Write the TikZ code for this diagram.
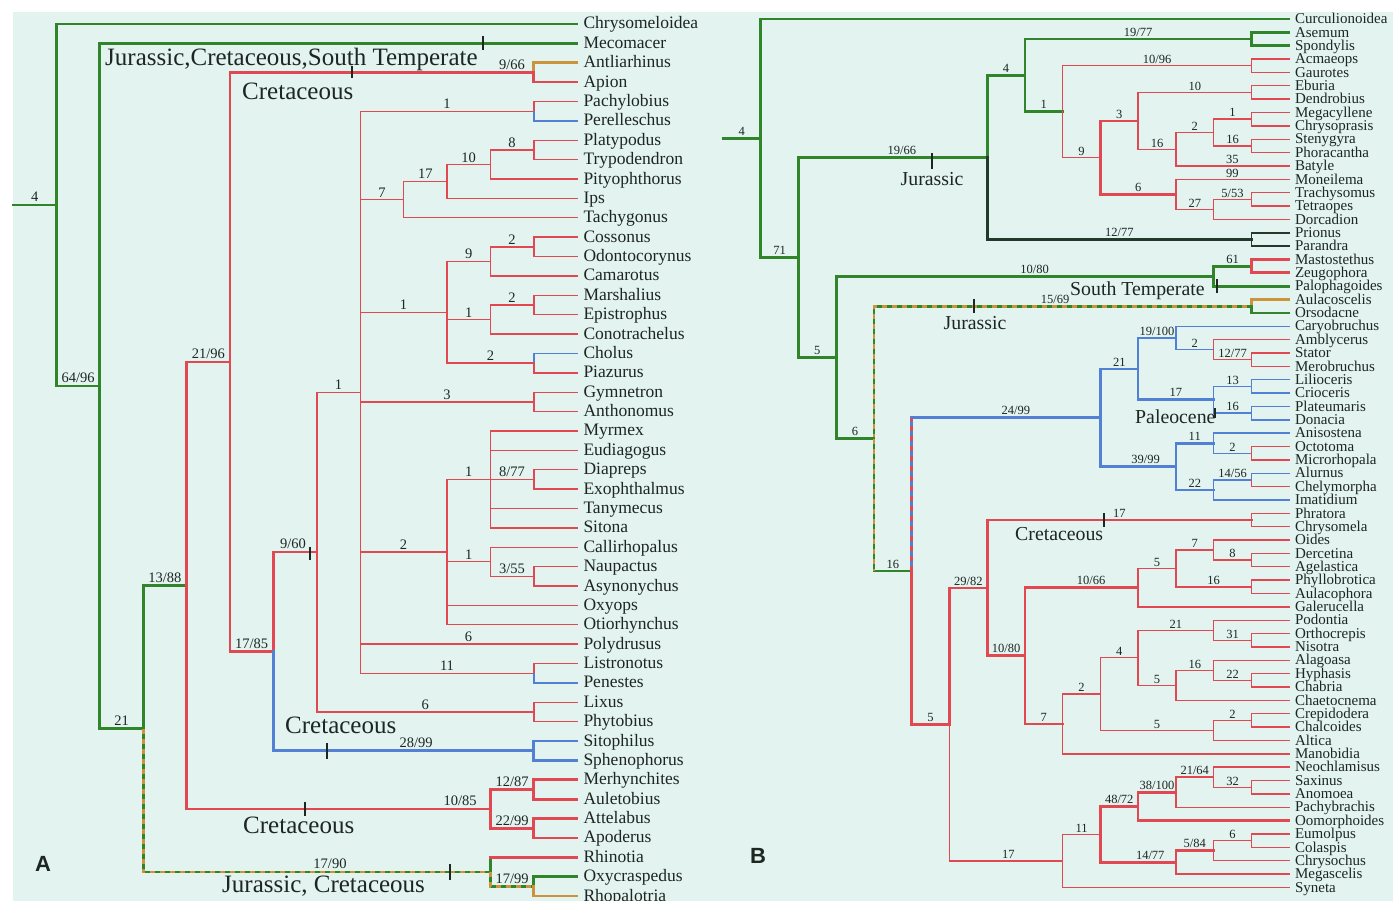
\documentclass[tikz,border=0pt]{standalone}
\usepackage{fontspec}
\setmainfont{Liberation Serif}
\newfontfamily\pfont{Liberation Sans}
\usetikzlibrary{calc}
\definecolor{bgc}{RGB}{226,243,240}
\definecolor{grn}{RGB}{48,132,42}
\definecolor{rdc}{RGB}{226,72,82}
\definecolor{blc}{RGB}{82,128,212}
\definecolor{org}{RGB}{204,148,58}
\definecolor{dkc}{RGB}{34,58,44}
\definecolor{txt}{RGB}{30,38,34}
\newcommand\mkn[4]{\path let \p1=(#3),\p2=(#4) in (#2pt,{0.5*\y1+0.5*\y2}) coordinate (#1);}
\newcommand\tbr[3]{\draw[#1] (#2) |- (#3);}
\newcommand\tbl[5][.75]{\draw[#2] (#3) |- node[lb,pos=#1]{#5} (#4);}
\tikzset{
  gT/.style={draw=grn,line width=2.7pt,line cap=rect},
  rT/.style={draw=rdc,line width=2.7pt,line cap=rect},
  bT/.style={draw=blc,line width=2.7pt,line cap=rect},
  oT/.style={draw=org,line width=2.7pt,line cap=rect},
  kT/.style={draw=dkc,line width=2.7pt,line cap=rect},
  rN/.style={draw=rdc,line width=1.4pt,line cap=rect},
  bN/.style={draw=blc,line width=1.4pt,line cap=rect},
  kN/.style={draw=dkc,line width=1.8pt,line cap=rect},
  ov/.style={draw=org,line width=2.7pt,dash pattern=on 5pt off 5pt},
  ovR/.style={draw=rdc,line width=2.7pt,dash pattern=on 5pt off 5pt},
  tick/.style={draw=txt,line width=1.4pt},
  leafA/.style={anchor=west,font=\fontsize{17.5}{17.5}\selectfont,text=txt,inner sep=0pt,outer xsep=6.5pt,outer ysep=0pt,text height=12.6pt,text depth=2.6pt},
  leafB/.style={anchor=west,font=\fontsize{15}{15}\selectfont,text=txt,inner sep=0pt,outer xsep=6pt,outer ysep=0pt,text height=11pt,text depth=1.6pt},
  bigA/.style={anchor=base west,font=\fontsize{25}{25}\selectfont,text=txt,inner sep=0pt},
  bigB/.style={anchor=base west,font=\fontsize{19.8}{19.8}\selectfont,text=txt,inner sep=0pt},
  plet/.style={anchor=base west,font=\pfont\bfseries\fontsize{22}{22}\selectfont,text=txt,inner sep=0pt}
}
\begin{document}
\begin{tikzpicture}[x=1pt,y=-1pt]
\useasboundingbox (0,0) rectangle (1393,901);
\fill[white] (0,0) rectangle (1393,901);
\fill[bgc] (13,12) rectangle (1393,901);

% ================= Panel A =================
\begin{scope}[lb/.style={font=\fontsize{14.5}{14.5}\selectfont,text=txt,anchor=south,inner sep=1.8pt,text depth=0pt}]
\foreach \n [count=\i from 0] in {Chrysomeloidea,Mecomacer,Antliarhinus,Apion,Pachylobius,Perelleschus,Platypodus,Trypodendron,Pityophthorus,Ips,Tachygonus,Cossonus,Odontocorynus,Camarotus,Marshalius,Epistrophus,Conotrachelus,Cholus,Piazurus,Gymnetron,Anthonomus,Myrmex,Eudiagogus,Diapreps,Exophthalmus,Tanymecus,Sitona,Callirhopalus,Naupactus,Asynonychus,Oxyops,Otiorhynchus,Polydrusus,Listronotus,Penestes,Lixus,Phytobius,Sitophilus,Sphenophorus,Merhynchites,Auletobius,Attelabus,Apoderus,Rhinotia,Oxycraspedus,Rhopalotria}
  \node[leafA] (A\i) at (577,{24+19.38*\i}) {\n};

\mkn{aAnt}{533.8}{A2.west}{A3.west}
\mkn{aPac}{533.8}{A4.west}{A5.west}
\mkn{aPla}{533.8}{A6.west}{A7.west}
\mkn{aPit}{490.4}{aPla}{A8.west}
\mkn{aIps}{447}{aPit}{A9.west}
\mkn{aTac}{403.6}{aIps}{A10.west}
\mkn{aCos}{533.8}{A11.west}{A12.west}
\mkn{aCam}{490.4}{aCos}{A13.west}
\mkn{aMar}{533.8}{A14.west}{A15.west}
\mkn{aCon}{490.4}{aMar}{A16.west}
\mkn{aCho}{533.8}{A17.west}{A18.west}
\mkn{aWee}{447}{aCam}{aCho}
\mkn{aGym}{533.8}{A19.west}{A20.west}
\mkn{aDia}{533.8}{A23.west}{A24.west}
\mkn{aMyr}{490.4}{A21.west}{A26.west}
\mkn{aNau}{533.8}{A28.west}{A29.west}
\mkn{aCal}{490.4}{A27.west}{aNau}
\mkn{aEnt}{447}{aMyr}{A31.west}
\mkn{aLis}{533.8}{A33.west}{A34.west}
\mkn{aEig}{360.2}{aPac}{aLis}
\mkn{aLix}{533.8}{A35.west}{A36.west}
\mkn{aSev}{316.8}{aEig}{aLix}
\mkn{aSit}{533.8}{A37.west}{A38.west}
\mkn{aSix}{273.4}{aSev}{aSit}
\mkn{aFiv}{230}{aAnt}{aSix}
\mkn{aMer}{533.8}{A39.west}{A40.west}
\mkn{aAtt}{533.8}{A41.west}{A42.west}
\mkn{aAtl}{490.4}{aMer}{aAtt}
\mkn{aFou}{186.6}{aFiv}{aAtl}
\mkn{aOxy}{533.8}{A44.west}{A45.west}
\mkn{aRhi}{490.4}{A43.west}{aOxy}
\mkn{aThr}{143.2}{aFou}{aRhi}
\mkn{aTwo}{99.8}{A1.west}{aThr}
\mkn{aOne}{56.4}{A0.west}{aTwo}
\path (aOne) ++(-43.4,0) coordinate (rA);

\draw[gT] (rA) -- node[lb]{4} (aOne);
\tbr{gT}{aOne}{A0.west}
\tbl{gT}{aOne}{aTwo}{64/96}
\tbr{gT}{aTwo}{A1.west}
\tbl{gT}{aTwo}{aThr}{21}
\tbl{gT}{aThr}{aFou}{13/88}
\tbl[.769]{gT}{aThr}{aRhi}{17/90}
\draw[ov] (aThr) |- (aRhi);
\tbr{gT}{aRhi}{A43.west}
\draw[rT] (aRhi |- A43.west) -- (A43.west);
\tbl{gT}{aRhi}{aOxy}{17/99}
\draw[ov] (aRhi) |- (aOxy);
\tbr{gT}{aOxy}{A44.west}
\tbr{oT}{aOxy}{A45.west}
\tbl{rT}{aFou}{aFiv}{21/96}
\tbl[.95]{rT}{aFou}{aAtl}{10/85}
\tbl{rT}{aAtl}{aMer}{12/87}
\tbl{rT}{aAtl}{aAtt}{22/99}
\tbr{rT}{aMer}{A39.west} \tbr{rT}{aMer}{A40.west}
\tbr{rT}{aAtt}{A41.west} \tbr{rT}{aAtt}{A42.west}
\tbl[.964]{rT}{aFiv}{aAnt}{9/66}
\tbr{oT}{aAnt}{A2.west}
\tbr{rT}{aAnt}{A3.west}
\tbl{rT}{aFiv}{aSix}{17/85}
\tbl[.726]{rT}{aSix}{aSev}{9/60}
\tbl[.774]{bT}{aSix}{aSit}{28/99}
\tbr{bT}{aSit}{A37.west} \tbr{bT}{aSit}{A38.west}
\tbl{rN}{aSev}{aEig}{1}
\tbl{rN}{aSev}{aLix}{6}
\tbr{rN}{aLix}{A35.west} \tbr{rN}{aLix}{A36.west}
\tbl{rN}{aEig}{aPac}{1}
\tbr{rN}{aPac}{A4.west} \tbr{bN}{aPac}{A5.west}
\tbl{rN}{aEig}{aTac}{7}
\tbl{rN}{aTac}{aIps}{17}
\tbr{rN}{aTac}{A10.west}
\tbl{rN}{aIps}{aPit}{10}
\tbr{rN}{aIps}{A9.west}
\tbl{rN}{aPit}{aPla}{8}
\tbr{rN}{aPit}{A8.west}
\tbr{rN}{aPla}{A6.west} \tbr{rN}{aPla}{A7.west}
\tbl{rN}{aEig}{aWee}{1}
\tbl{rN}{aWee}{aCam}{9}
\tbl{rN}{aCam}{aCos}{2}
\tbr{rN}{aCam}{A13.west}
\tbr{rN}{aCos}{A11.west} \tbr{rN}{aCos}{A12.west}
\tbl{rN}{aWee}{aCon}{1}
\tbl{rN}{aCon}{aMar}{2}
\tbr{rN}{aCon}{A16.west}
\tbr{rN}{aMar}{A14.west} \tbr{rN}{aMar}{A15.west}
\tbl{rN}{aWee}{aCho}{2}
\tbr{bN}{aCho}{A17.west} \tbr{rN}{aCho}{A18.west}
\tbl{rN}{aEig}{aGym}{3}
\tbr{rN}{aGym}{A19.west} \tbr{rN}{aGym}{A20.west}
\tbl{rN}{aEig}{aEnt}{2}
\tbl{rN}{aEnt}{aMyr}{1}
\tbr{rN}{aMyr}{A21.west} \tbr{rN}{aMyr}{A22.west}
\tbl{rN}{aMyr}{aDia}{8/77}
\tbr{rN}{aMyr}{A25.west} \tbr{rN}{aMyr}{A26.west}
\tbr{rN}{aDia}{A23.west} \tbr{rN}{aDia}{A24.west}
\tbl{rN}{aEnt}{aCal}{1}
\tbr{rN}{aCal}{A27.west}
\tbl{rN}{aCal}{aNau}{3/55}
\tbr{rN}{aNau}{A28.west} \tbr{rN}{aNau}{A29.west}
\tbr{rN}{aEnt}{A30.west} \tbr{rN}{aEnt}{A31.west}
\tbl{rN}{aEig}{A32.west}{6}
\tbl{rN}{aEig}{aLis}{11}
\tbr{rN}{aLis}{A33.west} \tbr{bN}{aLis}{A34.west}

\draw[tick] ([xshift=-94pt]A1.west) +(0,-7) -- +(0,7);
\draw[tick] ([xshift=-181.8pt]aAnt) +(0,-6) -- +(0,6);
\draw[tick] ([xshift=-6.8pt]aSev) +(0,-5) -- +(0,8);
\draw[tick] ([xshift=-206.8pt]aSit) +(0,-8) -- +(0,8);
\draw[tick] ([xshift=-185.4pt]aAtl) +(0,-7) -- +(0,7);
\draw[tick] ([xshift=-40.4pt]aRhi) +(0,-8) -- +(0,8);

\node[bigA] (tA1) at (105,66) {Jurassic,Cretaceous,South Temperate};
\node[bigA] (tA2) at (242,100) {Cretaceous};
\node[bigA] (tA3) at (285,733) {Cretaceous};
\node[bigA] (tA4) at (243,833) {Cretaceous};
\node[bigA] (tA5) at (222,892) {Jurassic, Cretaceous};
\node[plet] (pA) at (35,871) {A};
\end{scope}

% ================= Panel B =================
\begin{scope}[lb/.style={font=\fontsize{12.5}{12.5}\selectfont,text=txt,anchor=south,inner sep=1.5pt,text depth=0pt}]
\foreach \n [count=\i from 0] in {Curculionoidea,Asemum,Spondylis,Acmaeops,Gaurotes,Eburia,Dendrobius,Megacyllene,Chrysoprasis,Stenygyra,Phoracantha,Batyle,Moneilema,Trachysomus,Tetraopes,Dorcadion,Prionus,Parandra,Mastostethus,Zeugophora,Palophagoides,Aulacoscelis,Orsodacne,Caryobruchus,Amblycerus,Stator,Merobruchus,Lilioceris,Crioceris,Plateumaris,Donacia,Anisostena,Octotoma,Microrhopala,Alurnus,Chelymorpha,Imatidium,Phratora,Chrysomela,Oides,Dercetina,Agelastica,Phyllobrotica,Aulacophora,Galerucella,Podontia,Orthocrepis,Nisotra,Alagoasa,Hyphasis,Chabria,Chaetocnema,Crepidodera,Chalcoides,Altica,Manobidia,Neochlamisus,Saxinus,Anomoea,Pachybrachis,Oomorphoides,Eumolpus,Colaspis,Chrysochus,Megascelis,Syneta}
  \node[leafB] (B\i) at (1289,{19+13.36*\i}) {\n};

\mkn{bAse}{1251.4}{B1.west}{B2.west}
\mkn{bAcm}{1251.4}{B3.west}{B4.west}
\mkn{bEbu}{1251.4}{B5.west}{B6.west}
\mkn{bMeg}{1251.4}{B7.west}{B8.west}
\mkn{bSte}{1251.4}{B9.west}{B10.west}
\mkn{bMg2}{1213.6}{bMeg}{bSte}
\mkn{bBat}{1175.9}{bMg2}{B11.west}
\mkn{bEb3}{1138.1}{bEbu}{bBat}
\mkn{bTra}{1251.4}{B13.west}{B14.west}
\mkn{bTr2}{1213.6}{bTra}{B15.west}
\mkn{bMon}{1175.9}{B12.west}{bTr2}
\mkn{bNin}{1100.4}{bEb3}{bMon}
\mkn{bOne}{1062.7}{bAcm}{bNin}
\mkn{bFou}{1024.9}{bAse}{bOne}
\mkn{bPri}{1251.4}{B16.west}{B17.west}
\mkn{bSev}{987.2}{bFou}{bPri}
\mkn{bMas}{1251.4}{B18.west}{B19.west}
\mkn{bPal}{1213.6}{bMas}{B20.west}
\mkn{bAul}{1251.4}{B21.west}{B22.west}
\mkn{bSta}{1251.4}{B25.west}{B26.west}
\mkn{bAmb}{1213.6}{B24.west}{bSta}
\mkn{bCar}{1175.9}{B23.west}{bAmb}
\mkn{bLil}{1251.4}{B27.west}{B28.west}
\mkn{bPla}{1251.4}{B29.west}{B30.west}
\mkn{bLi2}{1213.6}{bLil}{bPla}
\mkn{bTwe}{1138.1}{bCar}{bLi2}
\mkn{bOct}{1251.4}{B32.west}{B33.west}
\mkn{bAni}{1213.6}{B31.west}{bOct}
\mkn{bAlu}{1251.4}{B34.west}{B35.west}
\mkn{bAl2}{1213.6}{bAlu}{B36.west}
\mkn{bThn}{1175.9}{bAni}{bAl2}
\mkn{bTen}{1100.4}{bTwe}{bThn}
\mkn{bPhr}{1251.4}{B37.west}{B38.west}
\mkn{bDer}{1251.4}{B40.west}{B41.west}
\mkn{bOid}{1213.6}{B39.west}{bDer}
\mkn{bPhy}{1251.4}{B42.west}{B43.west}
\mkn{bOi5}{1175.9}{bOid}{bPhy}
\mkn{bGal}{1138.1}{bOi5}{B44.west}
\mkn{bOrt}{1251.4}{B46.west}{B47.west}
\mkn{bPod}{1213.6}{B45.west}{bOrt}
\mkn{bHyp}{1251.4}{B49.west}{B50.west}
\mkn{bAla}{1213.6}{B48.west}{bHyp}
\mkn{bAl5}{1175.9}{bAla}{B51.west}
\mkn{bPfo}{1138.1}{bPod}{bAl5}
\mkn{bCre}{1251.4}{B52.west}{B53.west}
\mkn{bCr5}{1213.6}{bCre}{B54.west}
\mkn{bPtw}{1100.4}{bPfo}{bCr5}
\mkn{bPse}{1062.7}{bPtw}{B55.west}
\mkn{bTeE}{1024.9}{bGal}{bPse}
\mkn{bTwN}{987.2}{bPhr}{bTeE}
\mkn{bSax}{1251.4}{B57.west}{B58.west}
\mkn{bNeo}{1213.6}{B56.west}{bSax}
\mkn{bThE}{1175.9}{bNeo}{B59.west}
\mkn{bFoE}{1138.1}{bThE}{B60.west}
\mkn{bEum}{1251.4}{B61.west}{B62.west}
\mkn{bFiE}{1213.6}{bEum}{B63.west}
\mkn{bFoS}{1175.9}{bFiE}{B64.west}
\mkn{bEle}{1100.4}{bFoE}{bFoS}
\mkn{bSvt}{1062.7}{bEle}{B65.west}
\mkn{bFiv}{949.4}{bTwN}{bSvt}
\mkn{bSxt}{911.7}{bTen}{bFiv}
\mkn{bSix}{874}{bAul}{bSxt}
\mkn{bFvU}{836.2}{bPal}{bSix}
\mkn{bSvO}{798.5}{bSev}{bFvU}
\mkn{bFr}{760.7}{B0.west}{bSvO}
\path (bFr) ++(-37.7,0) coordinate (rB);

\draw[gT] (rB) -- node[lb]{4} (bFr);
\tbr{gT}{bFr}{B0.west}
\tbl{gT}{bFr}{bSvO}{71}
\tbl[.774]{gT}{bSvO}{bSev}{19/66}
\tbl{gT}{bSev}{bFou}{4}
\tbl{gT}{bFou}{bAse}{19/77}
\tbr{gT}{bAse}{B1.west} \tbr{gT}{bAse}{B2.west}
\tbl{gT}{bFou}{bOne}{1}
\tbl{rN}{bOne}{bAcm}{10/96}
\tbr{rN}{bAcm}{B3.west} \tbr{rN}{bAcm}{B4.west}
\tbl{rN}{bOne}{bNin}{9}
\tbl{rT}{bNin}{bEb3}{3}
\tbl{rT}{bNin}{bMon}{6}
\tbl{rN}{bEb3}{bEbu}{10}
\tbr{rN}{bEbu}{B5.west} \tbr{rN}{bEbu}{B6.west}
\tbl{rN}{bEb3}{bBat}{16}
\tbl{rN}{bBat}{bMg2}{2}
\tbl{rN}{bBat}{B11.west}{35}
\tbl{rN}{bMg2}{bMeg}{1}
\tbl{rN}{bMg2}{bSte}{16}
\tbr{rN}{bMeg}{B7.west} \tbr{rN}{bMeg}{B8.west}
\tbr{rN}{bSte}{B9.west} \tbr{rN}{bSte}{B10.west}
\tbl{rN}{bMon}{B12.west}{99}
\tbl{rN}{bMon}{bTr2}{27}
\tbl{rN}{bTr2}{bTra}{5/53}
\tbr{rN}{bTr2}{B15.west}
\tbr{rN}{bTra}{B13.west} \tbr{rN}{bTra}{B14.west}
\tbl{kT}{bSev}{bPri}{12/77}
\tbr{kN}{bPri}{B16.west} \tbr{kN}{bPri}{B17.west}
\tbl{gT}{bSvO}{bFvU}{5}
\tbl[.763]{gT}{bFvU}{bPal}{10/80}
\tbl{gT}{bPal}{bMas}{61}
\tbr{gT}{bPal}{B20.west}
\tbr{rT}{bMas}{B18.west} \tbr{rT}{bMas}{B19.west}
\tbl{gT}{bFvU}{bSix}{6}
\tbl[.74]{gT}{bSix}{bAul}{15/69}
\draw[ov] (bSix) |- (bAul);
\tbr{oT}{bAul}{B21.west} \tbr{gT}{bAul}{B22.west}
\tbl{gT}{bSix}{bSxt}{16}
\draw[ov] (bSix) -- (bSix |- bSxt);
\tbl[.776]{bT}{bSxt}{bTen}{24/99}
\draw[ovR] (bSxt) -- (bSxt |- bTen);
\tbl{bT}{bTen}{bTwe}{21}
\tbl{bT}{bTwe}{bCar}{19/100}
\tbr{bN}{bCar}{B23.west}
\tbl{bN}{bCar}{bAmb}{2}
\tbr{rN}{bAmb}{B24.west}
\tbl{rN}{bAmb}{bSta}{12/77}
\tbr{rN}{bSta}{B25.west} \tbr{rN}{bSta}{B26.west}
\tbl{bT}{bTwe}{bLi2}{17}
\tbl{bN}{bLi2}{bLil}{13}
\tbl{bN}{bLi2}{bPla}{16}
\tbr{bN}{bLil}{B27.west} \tbr{bN}{bLil}{B28.west}
\tbr{bN}{bPla}{B29.west} \tbr{bN}{bPla}{B30.west}
\tbl[.8]{bT}{bTen}{bThn}{39/99}
\tbl{bT}{bThn}{bAni}{11}
\tbl{bT}{bThn}{bAl2}{22}
\tbr{bN}{bAni}{B31.west}
\tbl{bN}{bAni}{bOct}{2}
\tbr{rN}{bOct}{B32.west} \tbr{rN}{bOct}{B33.west}
\tbl{bN}{bAl2}{bAlu}{14/56}
\tbr{bN}{bAl2}{B36.west}
\tbr{bN}{bAlu}{B34.west} \tbr{rN}{bAlu}{B35.west}
\tbl{rT}{bSxt}{bFiv}{5}
\tbl{rT}{bFiv}{bTwN}{29/82}
\tbl{rT}{bTwN}{bPhr}{17}
\tbr{rN}{bPhr}{B37.west} \tbr{rN}{bPhr}{B38.west}
\tbl{rT}{bTwN}{bTeE}{10/80}
\tbl[.792]{rT}{bTeE}{bGal}{10/66}
\tbl{rT}{bTeE}{bPse}{7}
\tbl{rN}{bGal}{bOi5}{5}
\tbr{rN}{bGal}{B44.west}
\tbl{rN}{bOi5}{bOid}{7}
\tbl{rN}{bOi5}{bPhy}{16}
\tbr{rN}{bOid}{B39.west}
\tbl{rN}{bOid}{bDer}{8}
\tbr{rN}{bDer}{B40.west} \tbr{rN}{bDer}{B41.west}
\tbr{rN}{bPhy}{B42.west} \tbr{rN}{bPhy}{B43.west}
\tbl{rN}{bPse}{bPtw}{2}
\tbr{rN}{bPse}{B55.west}
\tbl{rN}{bPtw}{bPfo}{4}
\tbl{rN}{bPtw}{bCr5}{5}
\tbl{rN}{bPfo}{bPod}{21}
\tbl{rN}{bPfo}{bAl5}{5}
\tbr{rN}{bPod}{B45.west}
\tbl{rN}{bPod}{bOrt}{31}
\tbr{rN}{bOrt}{B46.west} \tbr{rN}{bOrt}{B47.west}
\tbl{rN}{bAl5}{bAla}{16}
\tbr{rN}{bAl5}{B51.west}
\tbr{rN}{bAla}{B48.west}
\tbl{rN}{bAla}{bHyp}{22}
\tbr{rN}{bHyp}{B49.west} \tbr{rN}{bHyp}{B50.west}
\tbl{rN}{bCr5}{bCre}{2}
\tbr{rN}{bCr5}{B54.west}
\tbr{rN}{bCre}{B52.west} \tbr{rN}{bCre}{B53.west}
\tbl[.76]{rN}{bFiv}{bSvt}{17}
\tbl{rN}{bSvt}{bEle}{11}
\tbr{rN}{bSvt}{B65.west}
\tbl{rT}{bEle}{bFoE}{48/72}
\tbl[.83]{rT}{bEle}{bFoS}{14/77}
\tbl{rT}{bFoE}{bThE}{38/100}
\tbr{rT}{bFoE}{B60.west}
\tbl{rN}{bThE}{bNeo}{21/64}
\tbr{rN}{bThE}{B59.west}
\tbr{rN}{bNeo}{B56.west}
\tbl{rN}{bNeo}{bSax}{32}
\tbr{rN}{bSax}{B57.west} \tbr{rN}{bSax}{B58.west}
\tbl{rT}{bFoS}{bFiE}{5/84}
\tbr{rT}{bFoS}{B64.west}
\tbl{rN}{bFiE}{bEum}{6}
\tbr{rN}{bFiE}{B63.west}
\tbr{rN}{bEum}{B61.west} \tbr{rN}{bEum}{B62.west}

\draw[tick] ([xshift=-55.2pt]bSev) +(0,-4) -- +(0,12);
\draw[tick] ([xshift=-72pt]B20.west) +(0,-7) -- +(0,7);
\draw[tick] ([xshift=-277.4pt]bAul) +(0,-7) -- +(0,7);
\draw[tick] ([xshift=-36.4pt]bPla) +(0,-5) -- +(0,5);
\draw[tick] ([xshift=-147.4pt]bPhr) +(0,-7) -- +(0,7);

\node[bigB,anchor=base] (tB1) at (932,186) {Jurassic};
\node[bigB] (tB2) at (1070,296) {South Temperate};
\node[bigB,anchor=base] (tB3) at (975,330) {Jurassic};
\node[bigB] (tB4) at (1135,423) {Paleocene};
\node[bigB] (tB5) at (1015,540) {Cretaceous};
\node[plet] (pB) at (750,863) {B};
\end{scope}
\end{tikzpicture}
\end{document}
